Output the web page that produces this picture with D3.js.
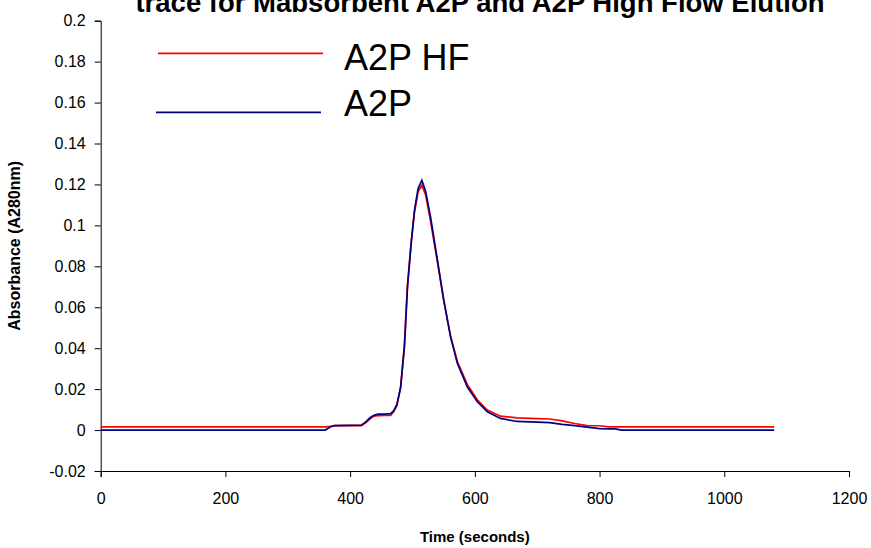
<!DOCTYPE html>
<html>
<head>
<meta charset="utf-8">
<script src="https://cdn.jsdelivr.net/npm/d3@7"></script>
<style>
  body { margin: 0; background: #fff; }
  text { font-family: "Liberation Sans", Arial, sans-serif; }
</style>
</head>
<body>
<div id="chart"></div>
<script>
// Elution time points (seconds)
const times = [0, 360, 368, 375, 418, 425, 432, 438, 445, 455, 465, 470, 475, 481, 487, 492, 498, 503, 509, 515,
    521, 529, 540, 550, 561, 572, 588, 604, 620, 641, 668, 700, 720, 740, 760, 780, 800, 815, 825, 835, 1080];

// A2P High Flow absorbance
const a2pHF = [0.0016, 0.0016, 0.0018, 0.0022, 0.0022, 0.0035, 0.0055, 0.0068, 0.007, 0.0072, 0.0072, 0.009, 0.012,
    0.021, 0.041, 0.071, 0.092, 0.106, 0.1165, 0.1195, 0.115, 0.102, 0.082, 0.0635, 0.046, 0.0335, 0.0222, 0.0148,
    0.0098, 0.0068, 0.006, 0.0056, 0.0054, 0.0045, 0.0032, 0.0022, 0.0021, 0.0016, 0.0016, 0.0016, 0.0016];

// A2P absorbance
const a2p = [0, 0, 0.0015, 0.0022, 0.0024, 0.004, 0.006, 0.0072, 0.0078, 0.0078, 0.008, 0.0095, 0.0125,
    0.021, 0.0406, 0.070, 0.0915, 0.107, 0.118, 0.122, 0.1167, 0.104, 0.083, 0.0637, 0.0455, 0.0325, 0.021, 0.0138,
    0.0089, 0.0057, 0.0042, 0.0039, 0.0036, 0.0028, 0.0022, 0.0014, 0.0007, 0.0006, 0.0006, 0, 0];

const xTicks = [0, 200, 400, 600, 800, 1000, 1200];
const yTicks = [-0.02, 0, 0.02, 0.04, 0.06, 0.08, 0.1, 0.12, 0.14, 0.16, 0.18, 0.2];

const series = [
    { name: "A2P HF", values: a2pHF, color: "#ff0000" },
    { name: "A2P", values: a2p, color: "#000080" }
];

const width = 871;
const height = 548;

const svg = d3.select("#chart")
    .append("svg")
    .attr("width", width)
    .attr("height", height);

const x = d3.scaleLinear().domain([0, 1200]).range([100.7, 849]);
const y = d3.scaleLinear().domain([-0.02, 0.2]).range([471, 20.7]);

// Title (clipped at the top like the original)
svg.append("text")
    .attr("x", 480)
    .attr("y", 12)
    .attr("text-anchor", "middle")
    .style("font-size", "27.5px")
    .style("font-weight", "bold")
    .text("trace for Mabsorbent A2P and A2P High Flow Elution");

// Axes
svg.append("g")
    .attr("transform", `translate(0,${y(-0.02)})`)
    .call(d3.axisBottom(x).tickValues(xTicks).tickSize(6).tickPadding(16).tickFormat(d => String(d)))
    .call(g => g.selectAll("text").style("font-size", "16px").attr("fill", "#000"))
    .call(g => g.selectAll("line, path").attr("stroke", "#000"));

svg.append("g")
    .attr("transform", `translate(${x(0)},0)`)
    .call(d3.axisLeft(y).tickValues(yTicks).tickSize(6).tickPadding(9).tickFormat(d => String(+d.toFixed(2))))
    .call(g => g.selectAll("text").style("font-size", "16px").attr("fill", "#000"))
    .call(g => g.selectAll("line, path").attr("stroke", "#000"));

// Axis titles
svg.append("text")
    .attr("x", x(600))
    .attr("y", 542)
    .attr("text-anchor", "middle")
    .style("font-size", "15px")
    .style("font-weight", "bold")
    .text("Time (seconds)");

svg.append("text")
    .attr("transform", `translate(20,${(y(0.2) + y(-0.02)) / 2}) rotate(-90)`)
    .attr("text-anchor", "middle")
    .style("font-size", "16px")
    .style("font-weight", "bold")
    .text("Absorbance (A280nm)");

// Traces
const line = d3.line()
    .x((d, i) => x(times[i]))
    .y(d => y(d));

svg.selectAll(".trace")
    .data(series)
    .enter()
    .append("path")
    .attr("class", "trace")
    .attr("d", d => line(d.values))
    .attr("fill", "none")
    .attr("stroke", d => d.color)
    .attr("stroke-width", 1.7);

// Legend
const legend = svg.selectAll(".legend")
    .data(series)
    .enter()
    .append("g")
    .attr("class", "legend");

legend.append("line")
    .attr("x1", (d, i) => 158 - i * 2)
    .attr("x2", (d, i) => 323 - i * 2)
    .attr("y1", (d, i) => 53.3 + i * 59)
    .attr("y2", (d, i) => 53.3 + i * 59)
    .attr("stroke", d => d.color)
    .attr("stroke-width", 1.7);

legend.append("text")
    .attr("x", 344)
    .attr("y", (d, i) => 70 + i * 46)
    .style("font-size", "36px")
    .text(d => d.name);
</script>
</body>
</html>
